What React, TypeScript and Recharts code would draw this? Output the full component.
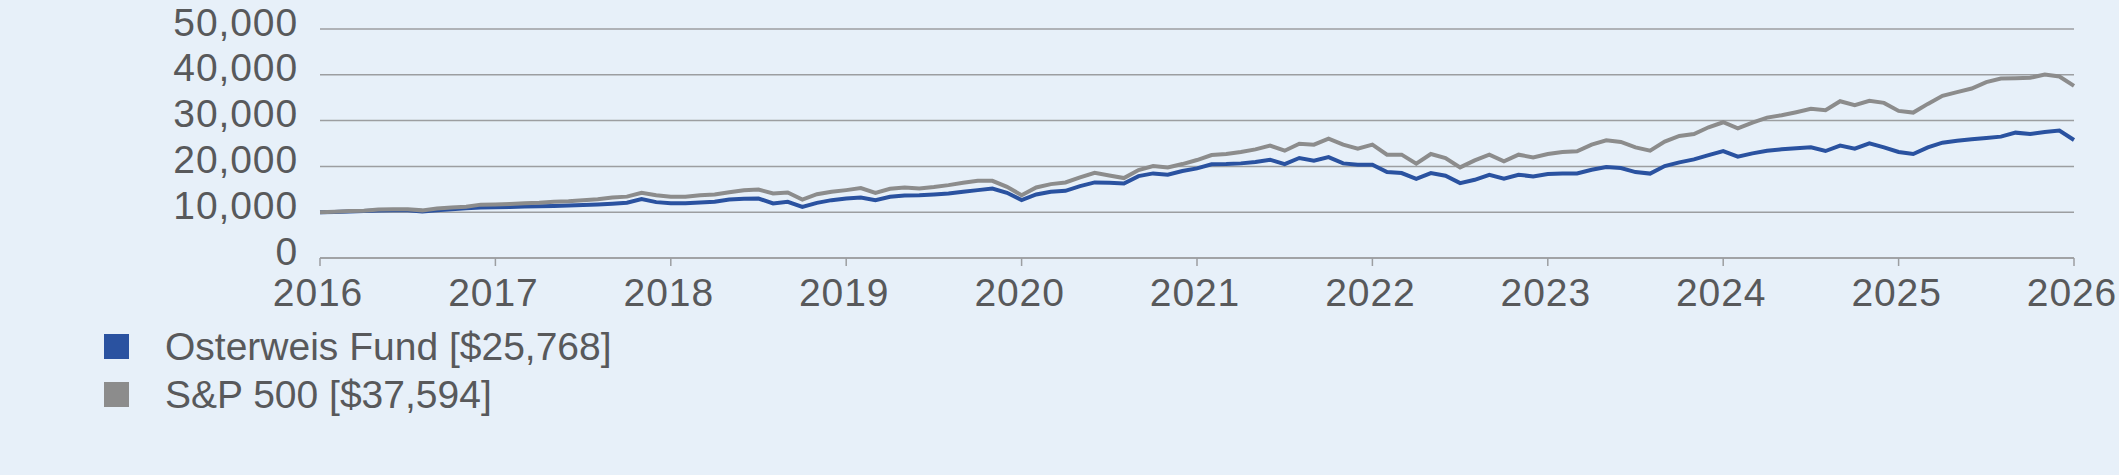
import { LineChart, Line, XAxis, YAxis, CartesianGrid } from 'recharts';

// growth of $10,000, monthly points (index 0 = start, 120 = end)
const fundValues = [
  10000, 10050, 10150, 10250, 10350, 10400, 10400, 10150, 10450, 10650,
  10850, 11050, 11100, 11150, 11250, 11300, 11350, 11450, 11550, 11700,
  11850, 12050, 12850, 12200, 11950, 11950, 12100, 12300, 12750, 12950,
  12990, 11900, 12260, 11170, 12040, 12630, 12990, 13210, 12630, 13360,
  13650, 13720, 13870, 14090, 14450, 14820, 15180, 14230, 12630, 13870,
  14450, 14670, 15690, 16500, 16420, 16280, 17880, 18470, 18180, 18980,
  19560, 20450, 20510, 20660, 20950, 21460, 20510, 21830, 21240, 22040,
  20660, 20370, 20370, 18760, 18540, 17300, 18540, 17960, 16350, 17080,
  18180, 17300, 18180, 17810, 18320, 18470, 18470, 19270, 19850, 19640,
  18760, 18430, 20070, 20870, 21530, 22480, 23360, 22120, 22850, 23430,
  23720, 23940, 24160, 23360, 24530, 23870, 25040, 24160, 23140, 22700,
  24160, 25180, 25620, 25910, 26200, 26500, 27370, 27080, 27520, 27810,
  25768,
];

const spxValues = [
  10000, 10100, 10250, 10300, 10600, 10650, 10650, 10400, 10800, 11000,
  11200, 11650, 11700, 11800, 11950, 12050, 12300, 12400, 12600, 12850,
  13200, 13400, 14250, 13700, 13400, 13400, 13700, 13850, 14350, 14800,
  14950, 14090, 14310, 12770, 13940, 14450, 14820, 15260, 14230, 15110,
  15400, 15180, 15480, 15910, 16420, 16860, 16860, 15550, 13720, 15400,
  16130, 16500, 17590, 18610, 18030, 17450, 19200, 20070, 19780, 20510,
  21390, 22480, 22700, 23140, 23720, 24530, 23430, 24960, 24750, 26060,
  24750, 23870, 24750, 22560, 22560, 20580, 22700, 21830, 19780, 21310,
  22560, 21100, 22560, 21970, 22700, 23140, 23290, 24750, 25690, 25330,
  24160, 23450, 25400, 26640, 27080, 28540, 29640, 28320, 29560, 30660,
  31170, 31830, 32560, 32260, 34230, 33360, 34310, 33870, 32120, 31750,
  33650, 35400, 36210, 37010, 38400, 39200, 39270, 39340, 40070, 39640,
  37594,
];

const yearLabels = ['2016', '2017', '2018', '2019', '2020', '2021', '2022', '2023', '2024', '2025', '2026'];
const yTicks = [0, 10000, 20000, 30000, 40000, 50000];

const series = [
  { key: 'fund', name: 'Osterweis Fund [$25,768]', color: '#2a52a0' },
  { key: 'spx', name: 'S&P 500 [$37,594]', color: '#8c8c8c' },
];

const data = fundValues.map((v, i) => ({ m: i, fund: v, spx: spxValues[i] }));

const textColor = '#58595b';
const font = '"Liberation Sans", Arial, sans-serif';

const YTick = (props: any) => {
  const { x, y, payload } = props;
  return (
    <text x={x} y={y + 6.5} textAnchor="end" fill={textColor} fontSize={39} fontFamily={font} letterSpacing={0.9}>
      {Number(payload.value).toLocaleString('en-US')}
    </text>
  );
};

const XTick = (props: any) => {
  const { x, y, payload } = props;
  return (
    <text x={x - 2} y={y + 38} textAnchor="middle" fill={textColor} fontSize={39} fontFamily={font} letterSpacing={0.9}>
      {yearLabels[Math.round(payload.value / 12)]}
    </text>
  );
};

export default function App() {
  return (
    <div style={{ position: 'absolute', left: 0, top: 0, width: 2119, height: 475, background: '#e7f0f9', fontFamily: font }}>
      <LineChart width={2119} height={330} data={data} margin={{ top: 29, right: 45, left: 0, bottom: 0 }}>
        <CartesianGrid vertical={false} stroke="#9c9ea1" strokeWidth={1.5} />
        <XAxis
          dataKey="m"
          type="number"
          domain={[0, 120]}
          ticks={yearLabels.map((_, i) => i * 12)}
          height={72}
          tickSize={8}
          tickMargin={2}
          axisLine={{ stroke: '#9c9ea1', strokeWidth: 1.5 }}
          tickLine={{ stroke: '#9c9ea1', strokeWidth: 1.5 }}
          tick={<XTick />}
          interval={0}
        />
        <YAxis
          type="number"
          domain={[0, 50000]}
          ticks={yTicks}
          width={320}
          tickSize={0}
          tickMargin={22}
          axisLine={false}
          tickLine={false}
          tick={<YTick />}
          interval={0}
        />
        <Line type="linear" dataKey="fund" stroke={series[0].color} strokeWidth={4} dot={false} isAnimationActive={false} />
        <Line type="linear" dataKey="spx" stroke={series[1].color} strokeWidth={4} dot={false} isAnimationActive={false} />
      </LineChart>
      <div style={{ position: 'absolute', left: 104, top: 334 }}>
        {series.map((s) => (
          <div key={s.key} style={{ position: 'relative', height: 48 }}>
            <div style={{ position: 'absolute', left: 0, top: 0, width: 25, height: 25, background: s.color }} />
            <div
              style={{
                position: 'absolute',
                left: 61,
                top: -7,
                fontSize: 39,
                lineHeight: '39px',
                color: textColor,
                whiteSpace: 'nowrap',
              }}
            >
              {s.name}
            </div>
          </div>
        ))}
      </div>
    </div>
  );
}
